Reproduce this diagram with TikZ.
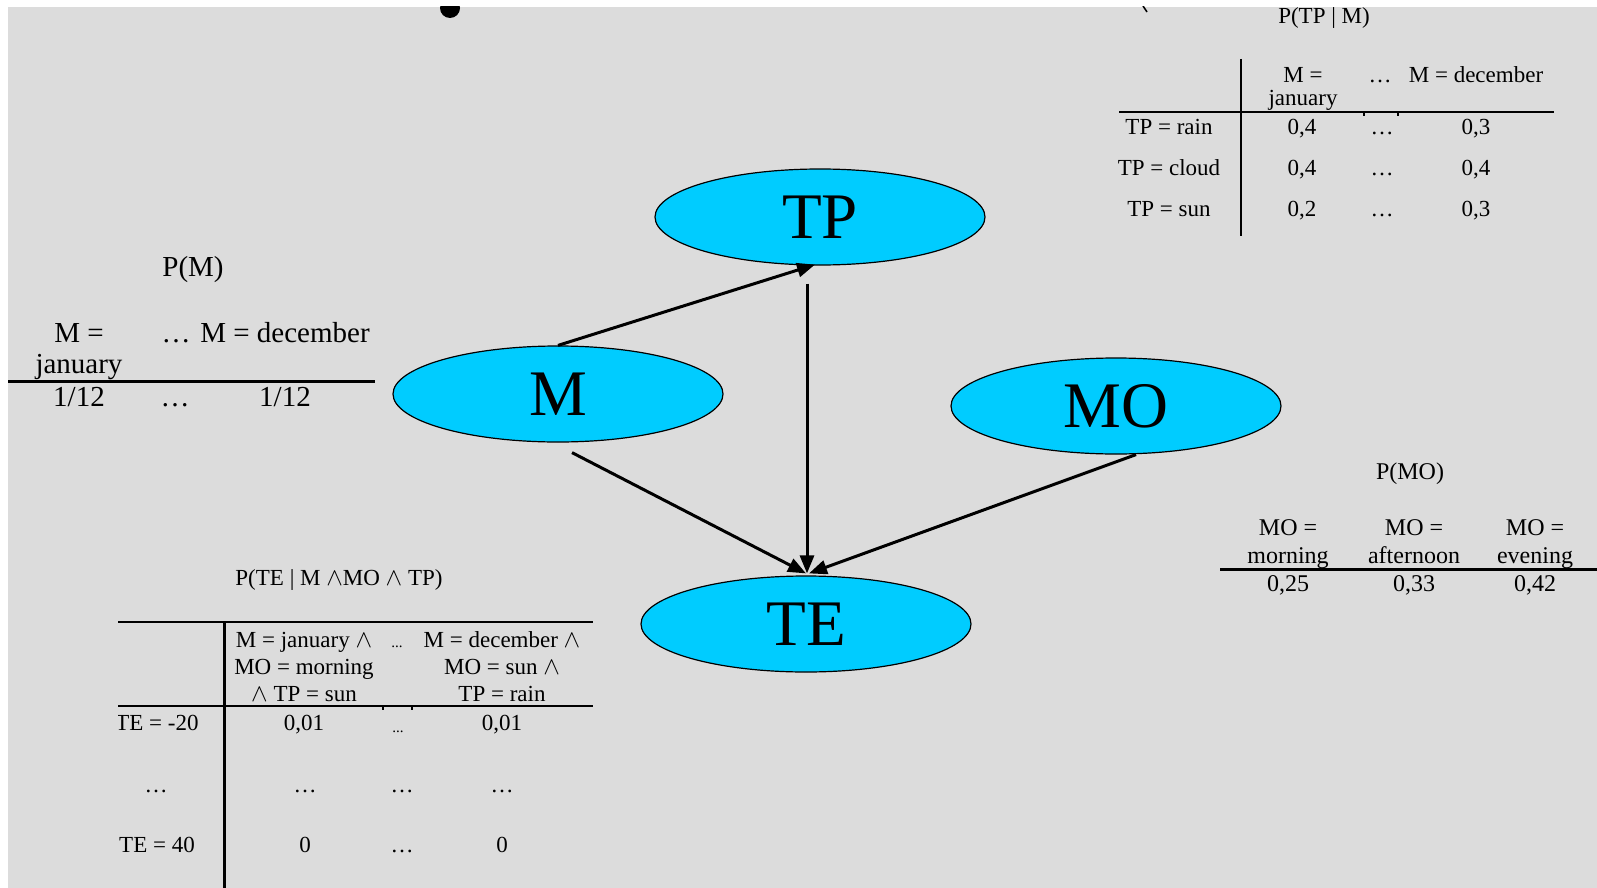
\documentclass[tikz,border=0pt]{standalone}
\usepackage{fontspec}
\setmainfont{Liberation Serif}
\usetikzlibrary{arrows.meta,shapes.geometric}
\definecolor{bg}{RGB}{220,220,220}
\definecolor{nodeblue}{RGB}{0,204,255}
\begin{document}
\begin{tikzpicture}[x=1pt,y=-1pt,
  var/.style={ellipse, draw=black, line width=1.2pt, fill=nodeblue, minimum width=330pt, minimum height=96pt, inner sep=0pt, font=\fontsize{65}{65}\selectfont},
  conn/.style={line width=3pt, -{Triangle[length=18pt,width=14pt]}},
  tA/.style={inner sep=0pt, anchor=base, font=\fontsize{23}{27}\selectfont},
  tM/.style={inner sep=0pt, anchor=base, font=\fontsize{29}{33}\selectfont},
  tO/.style={inner sep=0pt, anchor=base, font=\fontsize{24}{28}\selectfont},
  tS/.style={inner sep=0pt, anchor=base, font=\fontsize{15}{18}\selectfont},
  thinrule/.style={line width=2pt},
  thickrule/.style={line width=3pt}]
\useasboundingbox (0,0) rectangle (1597,888);
\fill[white] (0,0) rectangle (1597,888);
\fill[bg] (8,7) rectangle (1597,888);
% cut-off marks at the top
\begin{scope}
  \clip (8,7) rectangle (1597,888);
  \fill (450,8) circle (10);
  \draw[line width=1.5pt] (1143,6) -- (1147,12);
\end{scope}

% variables
\node[var] (TP) at (820,217) {TP};
\node[var] (M) at (558,394) {M};
\node[var] (MO) at (1116,406) {MO};
\node[var] (TE) at (806,624) {TE};

% arcs
\draw[conn] (M.north) -- ([xshift=-5pt,yshift=1pt]TP.south);
\draw[conn] ([xshift=-13pt,yshift=-18pt]TP.south) -- ([xshift=1pt,yshift=2pt]TE.north);
\draw[conn] ([xshift=14pt,yshift=-10pt]M.south) -- ([yshift=2pt]TE.north);
\draw[conn] ([xshift=20pt]MO.south) -- ([xshift=3pt,yshift=2pt]TE.north);

% P(M)
\node[tM] (pm) at (193,276) {P(M)};
\node[tM] (pmh1a) at (79,342) {M =};
\node[tM] (pmh1b) at (79,373) {january};
\node[tM] (pmh2) at (176,342) {…};
\node[tM] (pmh3) at (285,342) {M = december};
\draw[thickrule] (8,381) -- (375,381);
\node[tM] (pmv1) at (79,406) {1/12};
\node[tM] (pmv2) at (175,406) {…};
\node[tM] (pmv3) at (285,406) {1/12};

% P(TP | M)
\node[tA] (ptpm) at (1324,24) {P(TP | M)};
\node[tA] (ptpmh1a) at (1303,83) {M =};
\node[tA] (ptpmh1b) at (1303,106) {january};
\node[tA] (ptpmh2) at (1380,83) {…};
\node[tA] (ptpmh3) at (1476,83) {M = december};
\draw[thinrule] (1241,59) -- (1241,236);
\draw[thinrule] (1119,112) -- (1554,112);
\draw[line width=1.5pt] (1364,112) -- (1364,116);
\draw[line width=1.5pt] (1398,112) -- (1398,116);
\node[tA] (ptpmr1) at (1169,135) {TP = rain};
\node[tA] (ptpmr2) at (1169,175) {TP = cloud};
\node[tA] (ptpmr3) at (1169,216) {TP = sun};
\node[tA] (ptpm11) at (1302,135) {0,4};
\node[tA] (ptpm12) at (1382,135) {…};
\node[tA] (ptpm13) at (1476,135) {0,3};
\node[tA] (ptpm21) at (1302,175) {0,4};
\node[tA] (ptpm22) at (1382,175) {…};
\node[tA] (ptpm23) at (1476,175) {0,4};
\node[tA] (ptpm31) at (1302,216) {0,2};
\node[tA] (ptpm32) at (1382,216) {…};
\node[tA] (ptpm33) at (1476,216) {0,3};

% P(MO)
\node[tO] (pmo) at (1410,479) {P(MO)};
\node[tO] (pmoh1a) at (1288,535) {MO =};
\node[tO] (pmoh2a) at (1414,535) {MO =};
\node[tO] (pmoh3a) at (1535,535) {MO =};
\node[tO] (pmoh1b) at (1288,563) {morning};
\node[tO] (pmoh2b) at (1414,563) {afternoon};
\node[tO] (pmoh3b) at (1535,563) {evening};
\draw[thickrule] (1220,569) -- (1597,569);
\node[tO] (pmov1) at (1288,591) {0,25};
\node[tO] (pmov2) at (1414,591) {0,33};
\node[tO] (pmov3) at (1535,591) {0,42};

% P(TE | M ^ MO ^ TP)
\node[tA] (pte) at (339,585) {P(TE | M $\wedge$MO $\wedge$ TP)};
\draw[thinrule] (118,622) -- (593,622);
\draw[thinrule] (118,706) -- (593,706);
\draw[thickrule] (224,622) -- (224,888);
\draw[line width=1.5pt] (383,706) -- (383,710);
\draw[line width=1.5pt] (412,706) -- (412,710);
\node[tA] (pteh1a) at (304,647) {M = january $\wedge$};
\node[tA] (pteh1b) at (304,674) {MO = morning};
\node[tA] (pteh1c) at (304,701) {$\wedge$ TP = sun};
\node[tS] (pteh2) at (397,647) {...};
\node[tA] (pteh3a) at (502,647) {M = december $\wedge$};
\node[tA] (pteh3b) at (502,674) {MO = sun $\wedge$};
\node[tA] (pteh3c) at (502,701) {TP = rain};
\begin{scope}
  \clip (118,690) rectangle (222,760);
  \node[tA] (pter1) at (157,730) {TE = -20};
\end{scope}
\node[tA] (pte11) at (304,730) {0,01};
\node[tS] (pte12) at (398,732) {...};
\node[tA] (pte13) at (502,730) {0,01};
\node[tA] (pter2) at (156,792) {…};
\node[tA] (pte21) at (305,792) {…};
\node[tA] (pte22) at (402,792) {…};
\node[tA] (pte23) at (502,792) {…};
\node[tA] (pter3) at (157,852) {TE = 40};
\node[tA] (pte31) at (305,852) {0};
\node[tA] (pte32) at (402,852) {…};
\node[tA] (pte33) at (502,852) {0};
\end{tikzpicture}
\end{document}
